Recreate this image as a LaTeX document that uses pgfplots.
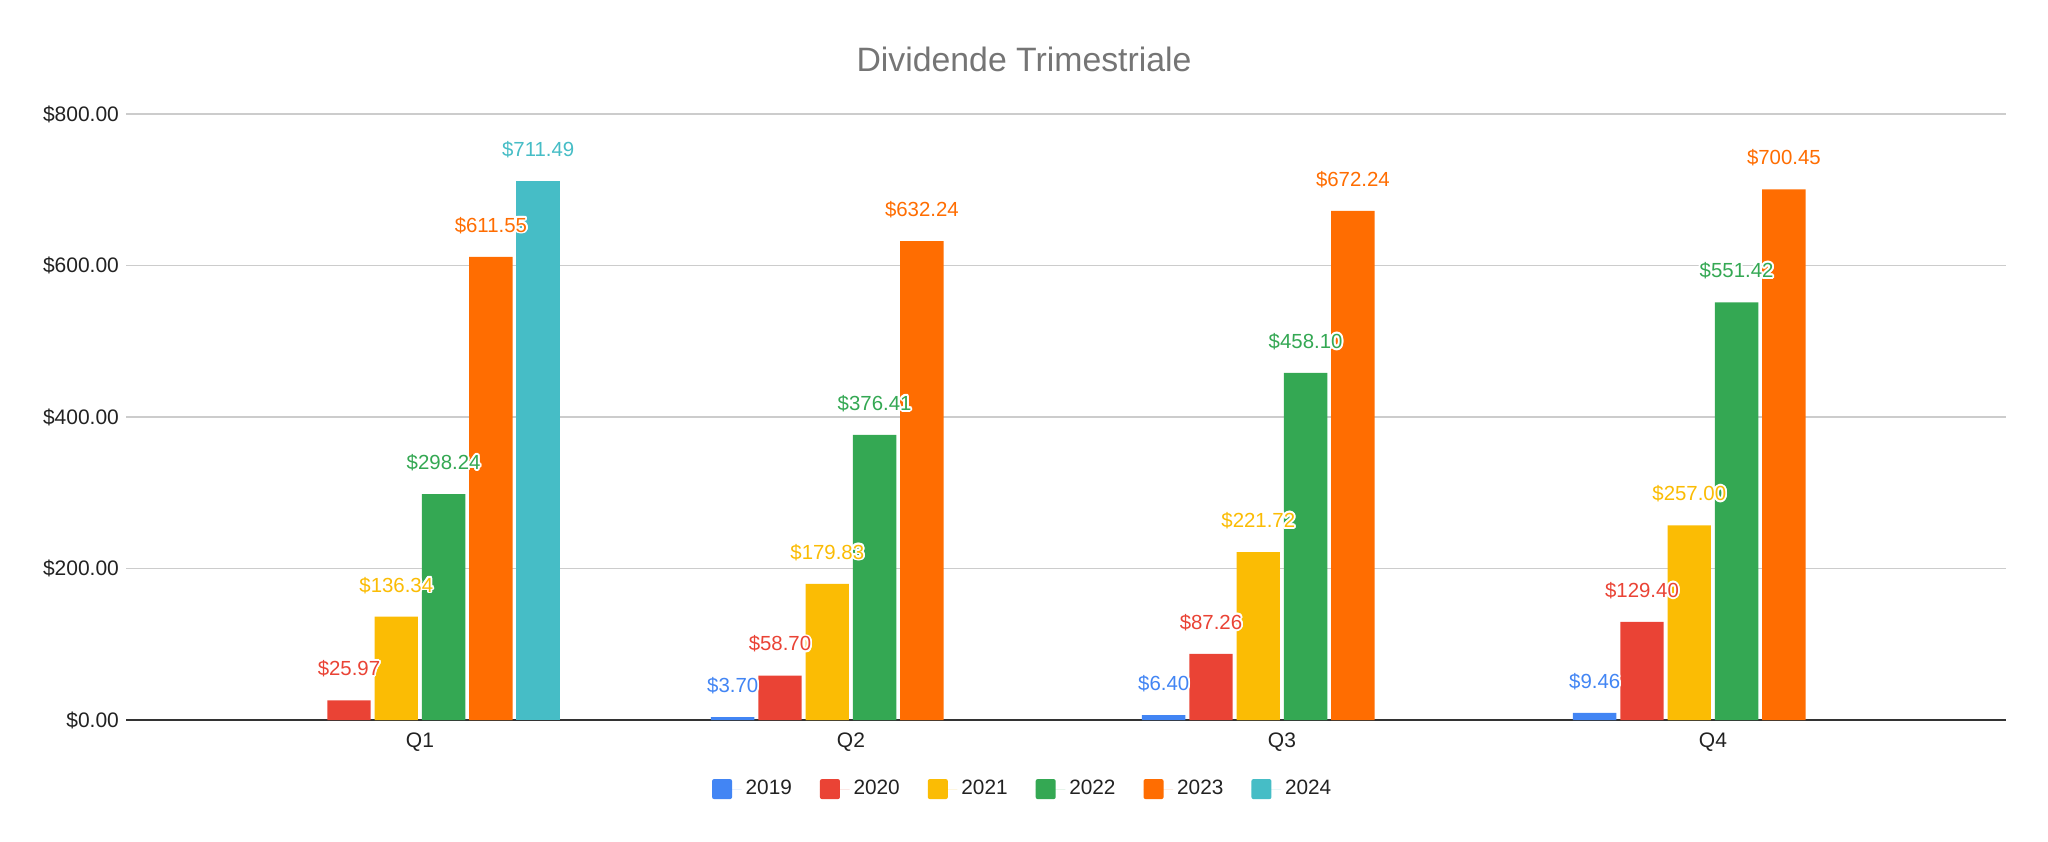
\documentclass[border=0pt]{standalone}
\usepackage{pgfplots}
\pgfplotsset{compat=1.18}
\usepackage{fontspec}
\setmainfont{Liberation Sans}
\usepackage{contour}
\contourlength{0.9pt}
\definecolor{c2019}{HTML}{4285F4}
\definecolor{c2020}{HTML}{EA4335}
\definecolor{c2021}{HTML}{FBBC04}
\definecolor{c2022}{HTML}{34A853}
\definecolor{c2023}{HTML}{FF6D01}
\definecolor{c2024}{HTML}{46BDC6}
\definecolor{gridc}{HTML}{CCCCCC}
\definecolor{axisc}{HTML}{333333}
\definecolor{titlec}{HTML}{757575}
\definecolor{textc}{HTML}{222222}
\begin{document}
\begin{tikzpicture}
\path[use as bounding box] (0,0) rectangle (1024pt,420.5pt);
\node[text=titlec, font=\fontsize{16.9}{20}\selectfont] at (512pt,391pt) {Dividende Trimestriale};
\begin{axis}[
  at={(63pt,60.5pt)}, anchor=south west,
  scale only axis, width=940pt, height=303pt,
  ybar=1.95pt, bar width=21.7pt,
  xmin=-0.682, xmax=3.680, ymin=0, ymax=800,
  xtick={0,1,2,3}, xticklabels={Q1,Q2,Q3,Q4},
  ytick={0,200,400,600,800},
  yticklabels={\$0.00,\$200.00,\$400.00,\$600.00,\$800.00},
  ymajorgrids, major grid style={gridc, line width=0.75pt},
  axis x line*=bottom, axis y line*=left,
  x axis line style={axisc, line width=1pt, -},
  y axis line style={draw=none},
  major tick length=0pt,
  ticklabel style={font=\fontsize{10.5}{12}\selectfont, text=textc},
  xticklabel style={yshift=-3pt},
  clip=false,
  point meta=explicit symbolic,
  nodes near coords={\contour{white}{\$\pgfplotspointmeta}},
  nodes near coords style={anchor=center, yshift=15.3pt, font=\fontsize{10.2}{12}\selectfont},
  legend style={at={(0.4775,-0.114)}, anchor=center, draw=none, legend columns=-1,
    font=\fontsize{10.4}{12}\selectfont, text=textc,
    /tikz/every even column/.append style={column sep=12pt}},
  legend image code/.code={\fill[#1, rounded corners=1pt] (0pt,-5pt) rectangle (10pt,5pt);
    \path (0pt,0pt) -- (14.8pt,0pt);},
]
\addplot[fill=c2019, draw=none, every node near coord/.append style={text=c2019}]
  coordinates {(1,3.70)[3.70] (2,6.40)[6.40] (3,9.46)[9.46]};
\addplot[fill=c2020, draw=none, every node near coord/.append style={text=c2020}]
  coordinates {(0,25.97)[25.97] (1,58.70)[58.70] (2,87.26)[87.26] (3,129.40)[129.40]};
\addplot[fill=c2021, draw=none, every node near coord/.append style={text=c2021}]
  coordinates {(0,136.34)[136.34] (1,179.83)[179.83] (2,221.72)[221.72] (3,257.00)[257.00]};
\addplot[fill=c2022, draw=none, every node near coord/.append style={text=c2022}]
  coordinates {(0,298.24)[298.24] (1,376.41)[376.41] (2,458.10)[458.10] (3,551.42)[551.42]};
\addplot[fill=c2023, draw=none, every node near coord/.append style={text=c2023}]
  coordinates {(0,611.55)[611.55] (1,632.24)[632.24] (2,672.24)[672.24] (3,700.45)[700.45]};
\addplot[fill=c2024, draw=none, every node near coord/.append style={text=c2024}]
  coordinates {(0,711.49)[711.49]};
\legend{2019,2020,2021,2022,2023,2024}
\end{axis}
\end{tikzpicture}
\end{document}
